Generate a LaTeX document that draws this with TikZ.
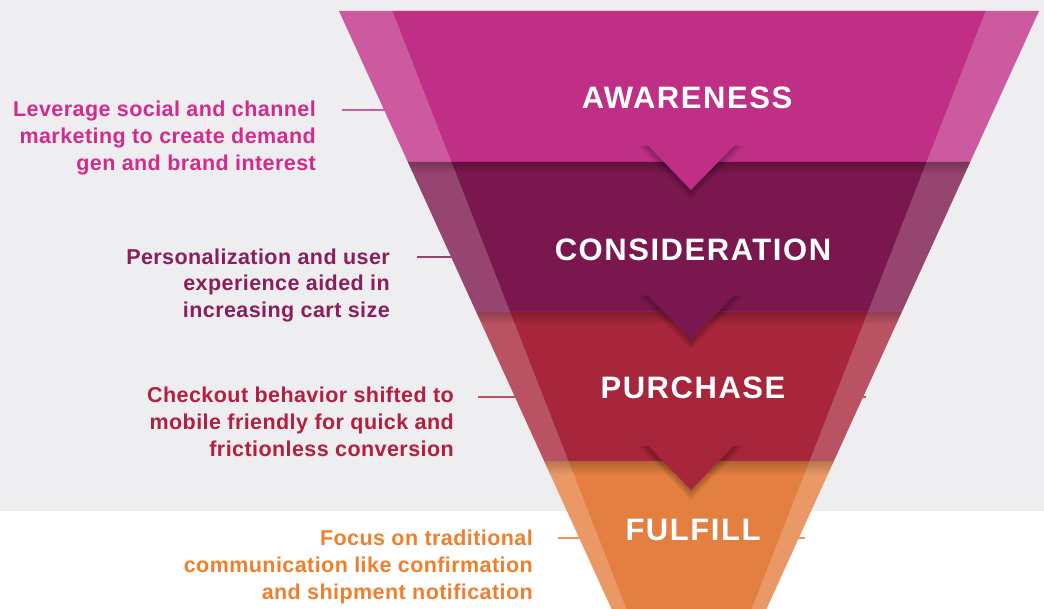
\documentclass[tikz,border=0pt]{standalone}
\usepackage{fontspec}
\setmainfont{Liberation Sans}
\newfontfamily\sidefont[LetterSpace=2]{Liberation Sans}
\newfontfamily\stagefont[LetterSpace=5]{Liberation Sans}
\usetikzlibrary{fadings}
\definecolor{bg}{HTML}{EEEEF0}
\definecolor{aD}{HTML}{BF2F86}
\definecolor{aL}{HTML}{CD5A9E}
\definecolor{cD}{HTML}{7B174F}
\definecolor{cL}{HTML}{964570}
\definecolor{pD}{HTML}{A7263B}
\definecolor{pL}{HTML}{B95262}
\definecolor{fD}{HTML}{E38041}
\definecolor{fL}{HTML}{EA9966}
\definecolor{aT}{HTML}{D42A8C}
\definecolor{cT}{HTML}{8B1D5C}
\definecolor{pT}{HTML}{B41F40}
\definecolor{fT}{HTML}{F07F2D}
\tikzset{
  sidetext/.style={anchor=base east, align=right, inner sep=0pt,
    font=\sidefont\fontsize{21.5}{26.8}\selectfont\bfseries},
  stagetext/.style={inner sep=0pt, text=white,
    font=\stagefont\fontsize{31}{36}\selectfont\bfseries},
  conn/.style={line width=2.8pt},
  topshade/.style={black, opacity=0.22, path fading=south},
  trishadow/.style={black, opacity=0.045}
}
\begin{document}
\begin{tikzpicture}[x=1pt,y=-1pt]
\useasboundingbox (0,0) rectangle (1044,609);
\fill[bg] (0,0) rectangle (1044,511);

% connectors (behind funnel)
\coordinate (a1) at (342,110); \coordinate (a2) at (390,110);
\coordinate (c1) at (417,257); \coordinate (c2) at (458,257);
\coordinate (p1) at (478,397); \coordinate (p2) at (866,397);
\coordinate (f1) at (558,538); \coordinate (f2) at (805,538);
\draw[conn, aL] (a1) -- (a2);
\draw[conn, cL] (c1) -- (c2);
\draw[conn, pL] (p1) -- (p2);
\draw[conn, fT!85!white] (f1) -- (f2);

% awareness band
\fill[aL] (339,11) -- (1039,11) -- (970.2,162) -- (407.8,162) -- cycle;
\fill[aD] (392.5,11) -- (985.5,11) -- (926.4,162) -- (451.6,162) -- cycle;
% consideration band
\fill[cL] (407.8,162) -- (970.2,162) -- (901.8,312) -- (476.2,312) -- cycle;
\fill[cD] (451.6,162) -- (926.4,162) -- (867.7,312) -- (510.3,312) -- cycle;
\begin{scope}
  \clip (407.8,162) -- (970.2,162) -- (901.8,312) -- (476.2,312) -- cycle;
  \fill[topshade] (400,162) rectangle (980,174);
\end{scope}
% awareness arrow
\foreach \k in {1,...,6}
  \fill[trishadow] ({647.5-\k*1.5},146) -- ({734.5+\k*1.5},146) -- (691,{191+\k*1.5}) -- cycle;
\fill[aD] (647.5,145) -- (734.5,145) -- (691,190) -- cycle;

% purchase band
\fill[pL] (476.2,312) -- (901.8,312) -- (833.9,461) -- (544.1,461) -- cycle;
\fill[pD] (510.3,312) -- (867.7,312) -- (809.4,461) -- (568.6,461) -- cycle;
\begin{scope}
  \clip (476.2,312) -- (901.8,312) -- (833.9,461) -- (544.1,461) -- cycle;
  \fill[topshade] (470,312) rectangle (910,324);
\end{scope}
% consideration arrow
\foreach \k in {1,...,6}
  \fill[trishadow] ({647.5-\k*1.5},296) -- ({734.5+\k*1.5},296) -- (691,{341+\k*1.5}) -- cycle;
\fill[cD] (647.5,295) -- (734.5,295) -- (691,340) -- cycle;

% fulfill band
\fill[fL] (544.1,461) -- (833.9,461) -- (766.5,609) -- (611.5,609) -- cycle;
\fill[fD] (568.6,461) -- (809.4,461) -- (751.5,609) -- (626.5,609) -- cycle;
\begin{scope}
  \clip (544.1,461) -- (833.9,461) -- (766.5,609) -- (611.5,609) -- cycle;
  \fill[topshade] (540,461) rectangle (840,475);
\end{scope}
% purchase arrow
\foreach \k in {1,...,6}
  \fill[trishadow] ({647.5-\k*1.5},446) -- ({734.5+\k*1.5},446) -- (691,{491+\k*1.5}) -- cycle;
\fill[pD] (647.5,445) -- (734.5,445) -- (691,490) -- cycle;

% stage labels
\node[stagetext] (tA) at (687,97.5) {AWARENESS};
\node[stagetext] (tC) at (693,250) {CONSIDERATION};
\node[stagetext] (tP) at (693,388) {PURCHASE};
\node[stagetext] (tF) at (693,529.5) {FULFILL};

% side texts (anchor = baseline of last line)
\node[sidetext, text=aT] (sA) at (316,170.3) {Leverage social and channel\\marketing to create demand\\gen and brand interest};
\node[sidetext, text=cT] (sC) at (390,317.7) {Personalization and user\\experience aided in\\increasing cart size};
\node[sidetext, text=pT] (sP) at (454,456) {Checkout behavior shifted to\\mobile friendly for quick and\\frictionless conversion};
\node[sidetext, text=fT] (sF) at (533,599.3) {Focus on traditional\\communication like confirmation\\and shipment notification};
\end{tikzpicture}
\end{document}
